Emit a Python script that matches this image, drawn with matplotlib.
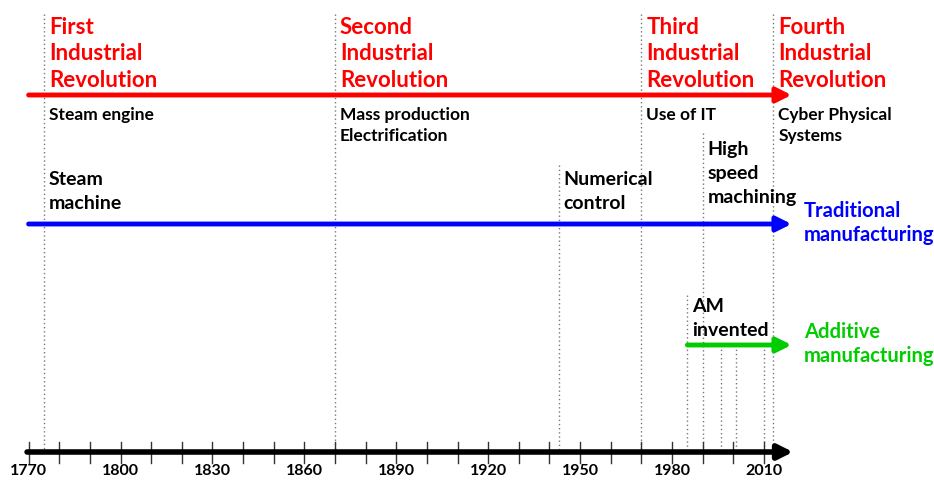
import matplotlib
matplotlib.use("Agg")
import matplotlib.pyplot as plt

# ---- data ----
rev_years = [1775, 1870, 1970, 2013]
rev_titles = ["First\nIndustrial\nRevolution", "Second\nIndustrial\nRevolution",
              "Third\nIndustrial\nRevolution", "Fourth\nIndustrial\nRevolution"]
rev_notes = ["Steam engine", "Mass production\nElectrification", "Use of IT", "Cyber Physical\nSystems"]

trad_years = [1775, 1943, 1990]
trad_labels = ["Steam\nmachine", "Numerical\ncontrol", "High\nspeed\nmachining"]

am_years = [1985, 1996, 2001, 2010]
am_labels = ["AM\ninvented", "", "", ""]

tick_years = list(range(1770, 2011, 30))
minor_years = list(range(1770, 2011, 10))
start_year, end_year = 1770, 2019

# ---- layout (pixel-based y) ----
W, H = 934, 486
px_per_year = 3.064
x0 = 28.6
fig = plt.figure(figsize=(W / 100, H / 100), dpi=100)
ax = fig.add_axes([0, 0, 1, 1])
ax.set_xlim(1770 - x0 / px_per_year, 1770 + (W - x0) / px_per_year)
ax.set_ylim(H, 0)
ax.axis("off")

FONT = ["Lato", "DejaVu Sans"]
off = 5 / px_per_year  # text offset from line in years

y_red, y_blue, y_green, y_axis = 95, 224, 345, 452
dot = dict(color="#777777", lw=1.0, ls=(0, (1, 2)), zorder=1)

# dotted lines
for yr in rev_years:
    ax.plot([yr, yr], [14, y_axis], **dot)
for yr, top in zip(trad_years[1:], [165, 133]):
    ax.plot([yr, yr], [top, y_axis], **dot)
for yr, top in zip(am_years, [295, 345, 345, 345]):
    ax.plot([yr, yr], [top, y_axis], **dot)


def arrow(x1, x2, y, color, lw=3.5, ms=22):
    ax.annotate("", xy=(x2, y), xytext=(x1, y),
                arrowprops=dict(arrowstyle="-|>", color=color, lw=lw,
                                mutation_scale=ms, shrinkA=0, shrinkB=0), zorder=3)


arrow(start_year, end_year, y_red, "#ff0000")
arrow(start_year, end_year, y_blue, "#0000ff")
arrow(am_years[0], end_year, y_green, "#00cc00")
arrow(start_year - 0.5, end_year + 0.5, y_axis, "black", lw=4)

# ticks on axis
for yr in minor_years:
    ax.plot([yr, yr], [442, 463], color="#333333", lw=1.0, zorder=2)
for yr in tick_years:
    ax.text(yr, 471, str(yr), ha="center", va="center", fontsize=11.5,
            fontweight="bold", family=["Liberation Sans Narrow", "Lato", "DejaVu Sans"])

# revolution titles & notes
for yr, t, n in zip(rev_years, rev_titles, rev_notes):
    ax.text(yr + off, 16.5, t, ha="left", va="top", color="#ff0000", fontsize=16,
            fontweight="bold", family=FONT, linespacing=1.34)
    ax.text(yr + off, 106.5, n, ha="left", va="top", color="black", fontsize=12.5,
            fontweight="bold", family=FONT, linespacing=1.45)

# traditional labels
trad_tops = [170.5, 170.5, 140.5]
for yr, t, top in zip(trad_years, trad_labels, trad_tops):
    ax.text(yr + off, top, t, ha="left", va="top", color="black", fontsize=14,
            fontweight="bold", family=FONT, linespacing=1.5)

ax.text(am_years[0] + off, 298, am_labels[0], ha="left", va="top", color="black",
        fontsize=14, fontweight="bold", family=FONT, linespacing=1.5)

ax.text(end_year + 4, 223, "Traditional\nmanufacturing", ha="left", va="center",
        color="#0000ff", fontsize=14.5, fontweight="bold", family=FONT, linespacing=1.29)
ax.text(end_year + 4, 344, "Additive\nmanufacturing", ha="left", va="center",
        color="#00cc00", fontsize=14.5, fontweight="bold", family=FONT, linespacing=1.29)

fig.savefig("out.png", dpi=100)
